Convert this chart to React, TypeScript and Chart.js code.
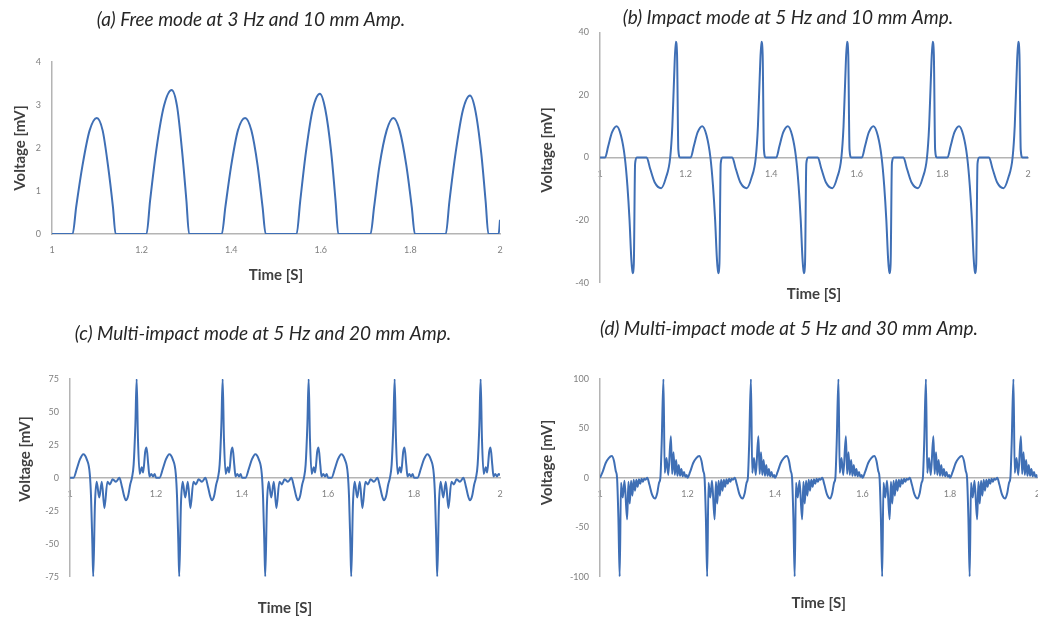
import React, { useEffect, useRef } from 'react';
import { Chart, registerables } from 'chart.js';

Chart.register(...registerables);

// ---------- (a) Free mode at 3 Hz and 10 mm Amp. ----------
const timesA = [
  1.000, 1.046, 1.054, 1.068, 1.084, 1.100, 1.113, 1.125, 1.136, 1.142,
  1.211, 1.219, 1.233, 1.250, 1.267, 1.279, 1.290, 1.300, 1.306,
  1.379, 1.387, 1.400, 1.415, 1.431, 1.445, 1.459, 1.470, 1.477,
  1.546, 1.554, 1.567, 1.582, 1.598, 1.610, 1.623, 1.633, 1.639,
  1.711, 1.719, 1.731, 1.747, 1.762, 1.776, 1.791, 1.803, 1.810,
  1.879, 1.887, 1.901, 1.917, 1.933, 1.945, 1.958, 1.968, 1.974,
  1.997, 2.000,
];
const voltsA = [
  0, 0, 0.63, 1.59, 2.41, 2.70, 2.41, 1.59, 0.63, 0,
  0, 0.78, 1.97, 2.98, 3.35, 2.98, 1.97, 0.78, 0,
  0, 0.63, 1.59, 2.41, 2.70, 2.41, 1.59, 0.63, 0,
  0, 0.76, 1.92, 2.90, 3.26, 2.90, 1.92, 0.76, 0,
  0, 0.63, 1.59, 2.41, 2.70, 2.41, 1.59, 0.63, 0,
  0, 0.75, 1.89, 2.87, 3.22, 2.87, 1.89, 0.75, 0,
  0, 0.33,
];

// ---------- (b) Impact mode at 5 Hz and 10 mm Amp. ----------
const timesB = [
  1.000, 1.012, 1.019, 1.028, 1.039, 1.049, 1.058, 1.064, 1.069, 1.073, 1.076, 1.079, 1.082, 1.086, 1.109, 1.117, 1.128, 1.143, 1.154, 1.164, 1.169, 1.173, 1.177, 1.180, 1.183, 1.187,
  1.200, 1.212, 1.219, 1.228, 1.239, 1.249, 1.258, 1.264, 1.269, 1.273, 1.276, 1.279, 1.282, 1.286, 1.309, 1.317, 1.328, 1.343, 1.354, 1.364, 1.369, 1.373, 1.377, 1.380, 1.383, 1.387,
  1.400, 1.412, 1.419, 1.428, 1.439, 1.449, 1.458, 1.464, 1.469, 1.473, 1.476, 1.479, 1.482, 1.486, 1.509, 1.517, 1.528, 1.543, 1.554, 1.564, 1.569, 1.573, 1.577, 1.580, 1.583, 1.587,
  1.600, 1.612, 1.619, 1.628, 1.639, 1.649, 1.658, 1.664, 1.669, 1.673, 1.676, 1.679, 1.682, 1.686, 1.709, 1.717, 1.728, 1.743, 1.754, 1.764, 1.769, 1.773, 1.777, 1.780, 1.783, 1.787,
  1.800, 1.812, 1.819, 1.828, 1.839, 1.849, 1.858, 1.864, 1.869, 1.873, 1.876, 1.879, 1.882, 1.886, 1.909, 1.917, 1.928, 1.943, 1.954, 1.964, 1.969, 1.973, 1.977, 1.980, 1.983, 1.987,
  2.000,
];
const voltsB = [
  0, 0, 3.5, 8, 10, 7, 0, -9, -20, -32, -37, -34, -2, 0, 0, -3.5, -8, -9.8, -6.5, 0, 10, 25, 37, 33, 2.5, 0,
  0, 0, 3.5, 8, 10, 7, 0, -9, -20, -32, -37, -34, -2, 0, 0, -3.5, -8, -9.8, -6.5, 0, 10, 25, 37, 33, 2.5, 0,
  0, 0, 3.5, 8, 10, 7, 0, -9, -20, -32, -37, -34, -2, 0, 0, -3.5, -8, -9.8, -6.5, 0, 10, 25, 37, 33, 2.5, 0,
  0, 0, 3.5, 8, 10, 7, 0, -9, -20, -32, -37, -34, -2, 0, 0, -3.5, -8, -9.8, -6.5, 0, 10, 25, 37, 33, 2.5, 0,
  0, 0, 3.5, 8, 10, 7, 0, -9, -20, -32, -37, -34, -2, 0, 0, -3.5, -8, -9.8, -6.5, 0, 10, 25, 37, 33, 2.5, 0,
  0,
];

// ---------- (c) Multi-impact mode at 5 Hz and 20 mm Amp. ----------
const timesC = [
  1.000, 1.008, 1.016, 1.023, 1.031, 1.039, 1.046, 1.049, 1.052, 1.054, 1.058, 1.062, 1.068, 1.074, 1.080, 1.087, 1.093, 1.099, 1.107, 1.115, 1.121, 1.126, 1.130, 1.135, 1.140, 1.144, 1.148, 1.152, 1.155, 1.158, 1.162, 1.167, 1.170, 1.175, 1.178, 1.182, 1.185, 1.189, 1.193, 1.197,
  1.200, 1.208, 1.216, 1.223, 1.231, 1.239, 1.246, 1.249, 1.252, 1.254, 1.258, 1.262, 1.268, 1.274, 1.280, 1.287, 1.293, 1.299, 1.307, 1.315, 1.321, 1.326, 1.330, 1.335, 1.340, 1.344, 1.348, 1.352, 1.355, 1.358, 1.362, 1.367, 1.370, 1.375, 1.378, 1.382, 1.385, 1.389, 1.393, 1.397,
  1.400, 1.408, 1.416, 1.423, 1.431, 1.439, 1.446, 1.449, 1.452, 1.454, 1.458, 1.462, 1.468, 1.474, 1.480, 1.487, 1.493, 1.499, 1.507, 1.515, 1.521, 1.526, 1.530, 1.535, 1.540, 1.544, 1.548, 1.552, 1.555, 1.558, 1.562, 1.567, 1.570, 1.575, 1.578, 1.582, 1.585, 1.589, 1.593, 1.597,
  1.600, 1.608, 1.616, 1.623, 1.631, 1.639, 1.646, 1.649, 1.652, 1.654, 1.658, 1.662, 1.668, 1.674, 1.680, 1.687, 1.693, 1.699, 1.707, 1.715, 1.721, 1.726, 1.730, 1.735, 1.740, 1.744, 1.748, 1.752, 1.755, 1.758, 1.762, 1.767, 1.770, 1.775, 1.778, 1.782, 1.785, 1.789, 1.793, 1.797,
  1.800, 1.808, 1.816, 1.823, 1.831, 1.839, 1.846, 1.849, 1.852, 1.854, 1.858, 1.862, 1.868, 1.874, 1.880, 1.887, 1.893, 1.899, 1.907, 1.915, 1.921, 1.926, 1.930, 1.935, 1.940, 1.944, 1.948, 1.952, 1.955, 1.958, 1.962, 1.967, 1.970, 1.975, 1.978, 1.982, 1.985, 1.989, 1.993, 1.997,
  2.000,
];
const voltsC = [
  0, 0, 7, 14, 18, 14, 3, -15, -50, -75, -20, -3, -15, -3, -23, -3, -5, -1, -3, 0, -7, -14, -17, -14, -5, 0, 10, 40, 75, 30, 3, 8, 4, 20, 23, 10, 1, 3, 1, 3,
  0, 0, 7, 14, 18, 14, 3, -15, -50, -75, -20, -3, -15, -3, -23, -3, -5, -1, -3, 0, -7, -14, -17, -14, -5, 0, 10, 40, 75, 30, 3, 8, 4, 20, 23, 10, 1, 3, 1, 3,
  0, 0, 7, 14, 18, 14, 3, -15, -50, -75, -20, -3, -15, -3, -23, -3, -5, -1, -3, 0, -7, -14, -17, -14, -5, 0, 10, 40, 75, 30, 3, 8, 4, 20, 23, 10, 1, 3, 1, 3,
  0, 0, 7, 14, 18, 14, 3, -15, -50, -75, -20, -3, -15, -3, -23, -3, -5, -1, -3, 0, -7, -14, -17, -14, -5, 0, 10, 40, 75, 30, 3, 8, 4, 20, 23, 10, 1, 3, 1, 3,
  0, 0, 7, 14, 18, 14, 3, -15, -50, -75, -20, -3, -15, -3, -23, -3, -5, -1, -3, 0, -7, -14, -17, -14, -5, 0, 10, 40, 75, 30, 3, 8, 4, 20, 23, 10, 1, 3, 1, 3,
  2,
];

// ---------- (d) Multi-impact mode at 5 Hz and 30 mm Amp. ----------
const timesD = [
  1.000, 1.006, 1.013, 1.020, 1.027, 1.032, 1.036, 1.039, 1.042, 1.045, 1.048, 1.052, 1.056, 1.062, 1.065, 1.068, 1.071, 1.074, 1.077, 1.080, 1.083, 1.086, 1.089, 1.092, 1.095, 1.098, 1.101, 1.104, 1.108, 1.113, 1.119, 1.126, 1.131, 1.135, 1.138, 1.141, 1.145, 1.148, 1.152, 1.156, 1.162, 1.165, 1.168, 1.171, 1.174, 1.177, 1.180, 1.183, 1.186, 1.189, 1.192, 1.195, 1.198,
  1.200, 1.206, 1.213, 1.220, 1.227, 1.232, 1.236, 1.239, 1.242, 1.245, 1.248, 1.252, 1.256, 1.262, 1.265, 1.268, 1.271, 1.274, 1.277, 1.280, 1.283, 1.286, 1.289, 1.292, 1.295, 1.298, 1.301, 1.304, 1.308, 1.313, 1.319, 1.326, 1.331, 1.335, 1.338, 1.341, 1.345, 1.348, 1.352, 1.356, 1.362, 1.365, 1.368, 1.371, 1.374, 1.377, 1.380, 1.383, 1.386, 1.389, 1.392, 1.395, 1.398,
  1.400, 1.406, 1.413, 1.420, 1.427, 1.432, 1.436, 1.439, 1.442, 1.445, 1.448, 1.452, 1.456, 1.462, 1.465, 1.468, 1.471, 1.474, 1.477, 1.480, 1.483, 1.486, 1.489, 1.492, 1.495, 1.498, 1.501, 1.504, 1.508, 1.513, 1.519, 1.526, 1.531, 1.535, 1.538, 1.541, 1.545, 1.548, 1.552, 1.556, 1.562, 1.565, 1.568, 1.571, 1.574, 1.577, 1.580, 1.583, 1.586, 1.589, 1.592, 1.595, 1.598,
  1.600, 1.606, 1.613, 1.620, 1.627, 1.632, 1.636, 1.639, 1.642, 1.645, 1.648, 1.652, 1.656, 1.662, 1.665, 1.668, 1.671, 1.674, 1.677, 1.680, 1.683, 1.686, 1.689, 1.692, 1.695, 1.698, 1.701, 1.704, 1.708, 1.713, 1.719, 1.726, 1.731, 1.735, 1.738, 1.741, 1.745, 1.748, 1.752, 1.756, 1.762, 1.765, 1.768, 1.771, 1.774, 1.777, 1.780, 1.783, 1.786, 1.789, 1.792, 1.795, 1.798,
  1.800, 1.806, 1.813, 1.820, 1.827, 1.832, 1.836, 1.839, 1.842, 1.845, 1.848, 1.852, 1.856, 1.862, 1.865, 1.868, 1.871, 1.874, 1.877, 1.880, 1.883, 1.886, 1.889, 1.892, 1.895, 1.898, 1.901, 1.904, 1.908, 1.913, 1.919, 1.926, 1.931, 1.935, 1.938, 1.941, 1.945, 1.948, 1.952, 1.956, 1.962, 1.965, 1.968, 1.971, 1.974, 1.977, 1.980, 1.983, 1.986, 1.989, 1.992, 1.995, 1.998,
  2.000,
];
const voltsD = [
  0, 6, 15, 20, 22, 17, 7, 0, -40, -100, -5, -20, -3, -42, -4, -26, -3, -18, -2, -13, -2, -9, -1.5, -6, -1, -4, -1, -2, 0, -7, -17, -21, -15, -5, 0, 35, 100, 5, 20, 3, 42, 4, 26, 3, 18, 2, 13, 2, 9, 1.5, 6, 1, 3,
  0, 6, 15, 20, 22, 17, 7, 0, -40, -100, -5, -20, -3, -42, -4, -26, -3, -18, -2, -13, -2, -9, -1.5, -6, -1, -4, -1, -2, 0, -7, -17, -21, -15, -5, 0, 35, 100, 5, 20, 3, 42, 4, 26, 3, 18, 2, 13, 2, 9, 1.5, 6, 1, 3,
  0, 6, 15, 20, 22, 17, 7, 0, -40, -100, -5, -20, -3, -42, -4, -26, -3, -18, -2, -13, -2, -9, -1.5, -6, -1, -4, -1, -2, 0, -7, -17, -21, -15, -5, 0, 35, 100, 5, 20, 3, 42, 4, 26, 3, 18, 2, 13, 2, 9, 1.5, 6, 1, 3,
  0, 6, 15, 20, 22, 17, 7, 0, -40, -100, -5, -20, -3, -42, -4, -26, -3, -18, -2, -13, -2, -9, -1.5, -6, -1, -4, -1, -2, 0, -7, -17, -21, -15, -5, 0, 35, 100, 5, 20, 3, 42, 4, 26, 3, 18, 2, 13, 2, 9, 1.5, 6, 1, 3,
  0, 6, 15, 20, 22, 17, 7, 0, -40, -100, -5, -20, -3, -42, -4, -26, -3, -18, -2, -13, -2, -9, -1.5, -6, -1, -4, -1, -2, 0, -7, -17, -21, -15, -5, 0, 35, 100, 5, 20, 3, 42, 4, 26, 3, 18, 2, 13, 2, 9, 1.5, 6, 1, 3,
  0,
];

// ---------- shared labels / axis settings ----------
const panelTitles = [
  '(a) Free mode at 3 Hz and 10 mm Amp.',
  '(b) Impact mode at 5 Hz and 10 mm Amp.',
  '(c) Multi-impact mode at 5 Hz and 20 mm Amp.',
  '(d) Multi-impact mode at 5 Hz and 30 mm Amp.',
];
const xAxisTitle = 'Time [S]';
const yAxisTitle = 'Voltage [mV]';
const xRange = [1, 2];
const xStep = 0.2;
const yRangeA = [0, 4, 1];
const yRangeB = [-40, 40, 20];
const yRangeC = [-75, 75, 25];
const yRangeD = [-100, 100, 50];

const FONT = 'Lato, "Open Sans", "DejaVu Sans", sans-serif';
const LINE_COLOR = '#3f6fb5';
const AXIS_COLOR = '#b4b4b4';
const TICK_COLOR = '#808080';
const TITLE_COLOR = '#262626';
const AXIS_TITLE_COLOR = '#404040';

// Draws the rotated y-axis title at the spot it sits in the reference.
const yTitlePlugin = {
  id: 'yTitleAt',
  afterDraw(chart: any, _args: any, opts: any) {
    if (!opts || !opts.text) return;
    const ctx = chart.ctx;
    ctx.save();
    ctx.translate(opts.x, opts.y);
    ctx.rotate(-Math.PI / 2);
    ctx.font = `bold 15px ${FONT}`;
    ctx.fillStyle = AXIS_TITLE_COLOR;
    ctx.textAlign = 'center';
    ctx.textBaseline = 'middle';
    ctx.fillText(opts.text, 0, 0);
    ctx.restore();
  },
};

type Spec = {
  title: string;
  times: number[];
  volts: number[];
  yr: number[];
  left: number;
  top: number;
  w: number;
  h: number;
  padLeft: number;
  padRight: number;
  titleTop: number;
  titleBottom: number;
  subTop: number;
  yWidth: number;
  yTitleX: number;
  yTitleY: number;
  xAtZero: boolean;
};

const specs: Spec[] = [
  { title: panelTitles[0], times: timesA, volts: voltsA, yr: yRangeA, left: 0, top: 0, w: 512, h: 284, padLeft: 2, padRight: 12, titleTop: 8.6, titleBottom: 30.6, subTop: 10, yWidth: 50, yTitleX: 20.5, yTitleY: 148, xAtZero: false },
  { title: panelTitles[1], times: timesB, volts: voltsB, yr: yRangeB, left: 536, top: 0, w: 504, h: 303, padLeft: 12, padRight: 12, titleTop: 6.6, titleBottom: 2.9, subTop: 2.3, yWidth: 52, yTitleX: 11, yTitleY: 150, xAtZero: true },
  { title: panelTitles[2], times: timesC, volts: voltsC, yr: yRangeC, left: 0, top: 300, w: 526, h: 317, padLeft: 26, padRight: 26, titleTop: 22.6, titleBottom: 33.6, subTop: 22.3, yWidth: 44, yTitleX: 25, yTitleY: 159, xAtZero: true },
  { title: panelTitles[3], times: timesD, volts: voltsD, yr: yRangeD, left: 530, top: 300, w: 518, h: 312, padLeft: 10.5, padRight: 10.5, titleTop: 17.6, titleBottom: 38.6, subTop: 17.3, yWidth: 59.5, yTitleX: 17, yTitleY: 162.5, xAtZero: true },
];

function Panel({ spec }: { spec: Spec }) {
  const ref = useRef<HTMLCanvasElement | null>(null);
  useEffect(() => {
    if (!ref.current) return;
    const points = spec.times.map((t, i) => ({ x: t, y: spec.volts[i] }));
    const chart = new Chart(ref.current, {
      type: 'line',
      data: {
        datasets: [
          {
            data: points,
            borderColor: LINE_COLOR,
            borderWidth: 2,
            pointRadius: 0,
            fill: false,
            cubicInterpolationMode: 'monotone',
          },
        ],
      },
      plugins: [yTitlePlugin],
      options: {
        animation: false,
        responsive: false,
        events: [],
        layout: { padding: { left: spec.padLeft, top: 0, right: spec.padRight, bottom: 0 } },
        plugins: {
          legend: { display: false },
          tooltip: { enabled: false },
          title: {
            display: true,
            text: spec.title,
            color: TITLE_COLOR,
            font: { family: FONT, size: 19, style: 'italic', weight: 'normal' },
            padding: { top: spec.titleTop, bottom: spec.titleBottom },
          },
          subtitle: {
            display: true,
            text: xAxisTitle,
            position: 'bottom',
            fullSize: false,
            color: AXIS_TITLE_COLOR,
            font: { family: FONT, size: 15, weight: 'bold' },
            padding: { top: spec.subTop, bottom: 0 },
          },
          yTitleAt: { text: yAxisTitle, x: spec.yTitleX, y: spec.yTitleY },
        },
        scales: {
          x: {
            type: 'linear',
            min: xRange[0],
            max: xRange[1],
            position: spec.xAtZero ? { y: 0 } : 'bottom',
            grid: { display: false },
            border: { display: true, color: AXIS_COLOR, width: 1.5 },
            ticks: {
              stepSize: xStep,
              autoSkip: false,
              maxRotation: 0,
              color: TICK_COLOR,
              font: { family: FONT, size: 9 },
              callback: (v: any) => String(Math.round(Number(v) * 10) / 10),
            },
            afterFit: (s: any) => {
              s.height = 22;
            },
          },
          y: {
            type: 'linear',
            min: spec.yr[0],
            max: spec.yr[1],
            grid: { display: false },
            border: { display: true, color: AXIS_COLOR, width: 1.5 },
            ticks: {
              stepSize: spec.yr[2],
              color: TICK_COLOR,
              font: { family: FONT, size: 9 },
            },
            title: { display: false },
            afterFit: (s: any) => {
              s.width = spec.yWidth;
            },
          },
        },
      } as any,
    });
    return () => chart.destroy();
  }, [spec]);
  return (
    <canvas
      ref={ref}
      width={spec.w}
      height={spec.h}
      style={{ position: 'absolute', left: spec.left, top: spec.top, width: spec.w, height: spec.h }}
    />
  );
}

export default function App() {
  return (
    <div
      style={{
        position: 'fixed',
        left: 0,
        top: 0,
        width: 1038,
        height: 621,
        overflow: 'hidden',
        background: '#ffffff',
      }}
    >
      {specs.map((s, i) => (
        <Panel key={i} spec={s} />
      ))}
    </div>
  );
}
